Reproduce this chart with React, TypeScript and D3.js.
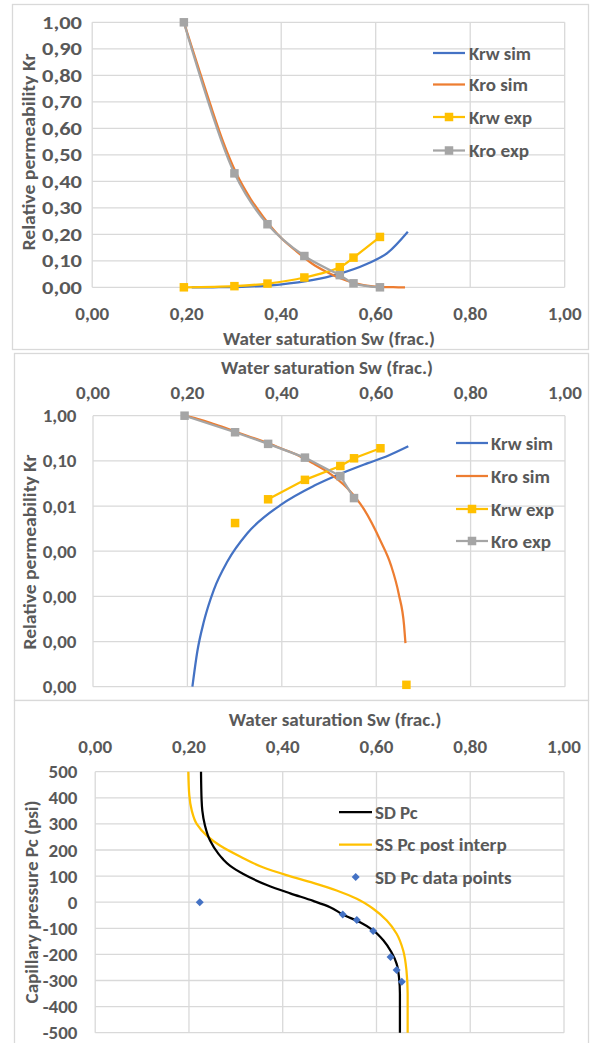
import React from "react";
import * as d3 from "d3";

const FONT = "Carlito, Calibri, Lato, sans-serif";
const TXT = "#595959";
const GRID = "#d9d9d9";
const BLUE = "#4472C4";
const ORANGE = "#ED7D31";
const GRAY = "#A5A5A5";
const YELLOW = "#FFC000";

// ---------- data ----------
const swTicks = [0, 0.2, 0.4, 0.6, 0.8, 1.0];
const krLinTicks = [0, 0.1, 0.2, 0.3, 0.4, 0.5, 0.6, 0.7, 0.8, 0.9, 1.0];
const krLogTicks = [1, 0.1, 0.01, 0.001, 0.0001, 0.00001, 0.000001];
const pcTicks = [500, 400, 300, 200, 100, 0, -100, -200, -300, -400, -500];

const xTitle = "Water saturation Sw (frac.)";
const krTitle = "Relative permeability Kr";
const pcTitle = "Capillary pressure Pc (psi)";
const krLegend = ["Krw sim", "Kro sim", "Krw exp", "Kro exp"];
const pcLegend = ["SD Pc", "SS Pc post interp", "SD Pc data points"];

const krwSim: [number, number][] = [
  [0.2106, 1e-6], [0.221, 6e-6], [0.235, 2.8e-5], [0.256, 1.4e-4], [0.285, 6e-4],
  [0.327, 2.5e-3], [0.397, 0.0105], [0.468, 0.028], [0.517, 0.048], [0.581, 0.088],
  [0.625, 0.13], [0.668, 0.21],
];
const kroSim: [number, number][] = [
  [0.194, 1.0], [0.221, 0.85], [0.25, 0.69], [0.277, 0.55], [0.305, 0.43],
  [0.335, 0.334], [0.362, 0.266], [0.4, 0.186], [0.433, 0.135], [0.465, 0.09],
  [0.496, 0.058], [0.539, 0.0247], [0.574, 0.0085], [0.609, 0.0017],
  [0.631, 5e-4], [0.648, 1.1e-4], [0.659, 2.3e-5], [0.662, 9.2e-6],
];
const krwExp: [number, number][] = [
  [0.194, 0], [0.301, 0.0043], [0.371, 0.014], [0.449, 0.037],
  [0.524, 0.076], [0.553, 0.112], [0.609, 0.19],
];
const kroExp: [number, number][] = [
  [0.194, 1.0], [0.301, 0.43], [0.371, 0.238], [0.449, 0.118],
  [0.524, 0.046], [0.553, 0.015], [0.609, 0],
];
// log-scale view of the experimental Krw series (connected part and loose points)
const krwExpLogLine: [number, number][] = [
  [0.371, 0.0141], [0.449, 0.038], [0.524, 0.077], [0.553, 0.114], [0.609, 0.19],
];
const krwExpLogLoose: [number, number][] = [[0.301, 0.0042], [0.664, 1.1e-6]];

const sdPc: [number, number][] = [
  [0.2257, 500], [0.227, 390], [0.2285, 351], [0.234, 295], [0.245, 236],
  [0.263, 185], [0.273, 164], [0.288, 139], [0.316, 108], [0.366, 66],
  [0.416, 34], [0.465, 5], [0.501, -19], [0.529, -48], [0.565, -77],
  [0.593, -108], [0.615, -147], [0.632, -192], [0.643, -236], [0.648, -287],
  [0.65, -351], [0.65, -500],
];
const ssPc: [number, number][] = [
  [0.1986, 500], [0.2007, 410], [0.206, 351], [0.2165, 300], [0.238, 255],
  [0.266, 217], [0.309, 175], [0.359, 133], [0.408, 104], [0.465, 74],
  [0.515, 45], [0.558, 13], [0.593, -25], [0.622, -70], [0.643, -121],
  [0.657, -185], [0.664, -262], [0.6665, -351], [0.6665, -500],
];
const sdPcPoints: [number, number][] = [
  [0.223, 0], [0.528, -47], [0.558, -68], [0.593, -110], [0.63, -210],
  [0.643, -260], [0.654, -305],
];

const fmt2 = (v: number) => v.toFixed(2).replace(".", ",");

type Sc = (v: number) => number;

const TICK_SIZE = 19;
const TITLE_SIZE = 18.5;
const LEG_SIZE = 18.5;

function Square({ cx, cy, color, s = 8.5 }: { cx: number; cy: number; color: string; s?: number }) {
  return <rect x={cx - s / 2} y={cy - s / 2} width={s} height={s} fill={color} />;
}
function Diamond({ cx, cy, color, r = 4 }: { cx: number; cy: number; color: string; r?: number }) {
  return (
    <path
      d={`M${cx},${cy - r}L${cx + r},${cy}L${cx},${cy + r}L${cx - r},${cy}Z`}
      fill={color}
    />
  );
}

function Grid({ x, y, xs, ys }: { x: Sc; y: Sc; xs: number[]; ys: number[] }) {
  const [y0, y1] = [y(ys[0]), y(ys[ys.length - 1])];
  const [x0, x1] = [x(xs[0]), x(xs[xs.length - 1])];
  return (
    <g stroke={GRID} strokeWidth={1.3}>
      {xs.map((t, i) => (
        <line key={"v" + i} x1={x(t)} x2={x(t)} y1={y0} y2={y1} />
      ))}
      {ys.map((t, i) => (
        <line key={"h" + i} x1={x0} x2={x1} y1={y(t)} y2={y(t)} />
      ))}
    </g>
  );
}

function XLabels({ x, ticks, yPos }: { x: Sc; ticks: number[]; yPos: number }) {
  return (
    <g fill={TXT} fontSize={TICK_SIZE} textAnchor="middle">
      {ticks.map((t, i) => (
        <text key={i} x={x(t)} y={yPos} dominantBaseline="central">
          {fmt2(t)}
        </text>
      ))}
    </g>
  );
}
function YLabels({
  y, ticks, xPos, f, width,
}: { y: Sc; ticks: number[]; xPos: number; f: (v: number) => string; width?: number }) {
  return (
    <g fill={TXT} fontSize={TICK_SIZE} textAnchor="end">
      {ticks.map((t, i) => (
        <text
          key={i}
          x={xPos}
          y={y(t)}
          dominantBaseline="central"
          textLength={width}
          lengthAdjust={width ? "spacingAndGlyphs" : undefined}
        >
          {f(t)}
        </text>
      ))}
    </g>
  );
}
function Title({
  x, y, text, len, rotate = false,
}: { x: number; y: number; text: string; len: number; rotate?: boolean }) {
  return (
    <text
      x={x}
      y={y}
      fill={TXT}
      fontSize={TITLE_SIZE}
      textAnchor="middle"
      dominantBaseline="central"
      textLength={len}
      lengthAdjust="spacingAndGlyphs"
      transform={rotate ? `rotate(-90 ${x} ${y})` : undefined}
    >
      {text}
    </text>
  );
}
function LegText({ x, y, text, len }: { x: number; y: number; text: string; len: number }) {
  return (
    <text
      x={x}
      y={y}
      fill={TXT}
      fontSize={LEG_SIZE}
      dominantBaseline="central"
      textLength={len}
      lengthAdjust="spacingAndGlyphs"
    >
      {text}
    </text>
  );
}

function KrLegend({ x0, x1, tx, rows }: { x0: number; x1: number; tx: number; rows: number[] }) {
  const colors = [BLUE, ORANGE, YELLOW, GRAY];
  const lens = [62, 59, 63, 60];
  return (
    <g>
      {krLegend.map((lab, i) => (
        <g key={i}>
          <line x1={x0} x2={x1} y1={rows[i]} y2={rows[i]} stroke={colors[i]} strokeWidth={2.25} />
          {i >= 2 && <Square cx={(x0 + x1) / 2} cy={rows[i]} color={colors[i]} />}
          <LegText x={tx} y={rows[i]} text={lab} len={lens[i]} />
        </g>
      ))}
    </g>
  );
}

function Panel1() {
  const x = d3.scaleLinear().domain([0, 1]).range([92.2, 564.7]);
  const y = d3.scaleLinear().domain([0, 1]).range([287.3, 22.3]);
  const sim = d3.line<[number, number]>().x((d) => x(d[0])).y((d) => y(d[1])).curve(d3.curveMonotoneX);
  const smooth = d3
    .line<[number, number]>()
    .x((d) => x(d[0]))
    .y((d) => y(d[1]))
    .curve(d3.curveCatmullRom.alpha(0.5));
  return (
    <g>
      <rect x={12.5} y={4.5} width={576} height={345} fill="#fff" stroke={GRID} strokeWidth={1.3} />
      <Grid x={x} y={y} xs={swTicks} ys={krLinTicks} />
      <path d={sim(krwSim) || ""} fill="none" stroke={BLUE} strokeWidth={2.25} />
      <path d={sim(kroSim) || ""} fill="none" stroke={ORANGE} strokeWidth={2.25} />
      <path d={smooth(krwExp) || ""} fill="none" stroke={YELLOW} strokeWidth={2.25} />
      {krwExp.map((d, i) => (
        <Square key={"y" + i} cx={x(d[0])} cy={y(d[1])} color={YELLOW} />
      ))}
      <path d={smooth(kroExp) || ""} fill="none" stroke={GRAY} strokeWidth={2.25} />
      {kroExp.map((d, i) => (
        <Square key={"g" + i} cx={x(d[0])} cy={y(d[1])} color={GRAY} />
      ))}
      <YLabels y={y} ticks={krLinTicks} xPos={82} f={fmt2} width={40} />
      <XLabels x={x} ticks={swTicks} yPos={313.5} />
      <Title x={329} y={338} text={xTitle} len={212} />
      <Title x={28.5} y={152} text={krTitle} len={197} rotate />
      <KrLegend x0={433} x1={465} tx={469} rows={[53, 84.5, 117, 150.5]} />
    </g>
  );
}

function Panel2() {
  const x = d3.scaleLinear().domain([0, 1]).range([93, 565]);
  const y = d3.scaleLog().domain([1e-6, 1]).range([686.7, 415.7]);
  const sim = d3.line<[number, number]>().x((d) => x(d[0])).y((d) => y(d[1])).curve(d3.curveMonotoneX);
  const straight = d3.line<[number, number]>().x((d) => x(d[0])).y((d) => y(d[1]));
  const kroPos = kroExp.filter((d) => d[1] > 0);
  return (
    <g>
      <rect x={14.5} y={353.5} width={574} height={347} fill="#fff" stroke={GRID} strokeWidth={1.3} />
      <Grid x={x} y={y} xs={swTicks} ys={krLogTicks} />
      <path d={sim(krwSim) || ""} fill="none" stroke={BLUE} strokeWidth={2.25} />
      <path d={sim(kroSim) || ""} fill="none" stroke={ORANGE} strokeWidth={2.25} />
      <path d={straight(krwExpLogLine) || ""} fill="none" stroke={YELLOW} strokeWidth={2.25} />
      {[...krwExpLogLine, ...krwExpLogLoose].map((d, i) => (
        <Square key={"y" + i} cx={x(d[0])} cy={y(d[1])} color={YELLOW} />
      ))}
      <path d={straight(kroPos) || ""} fill="none" stroke={GRAY} strokeWidth={2.25} />
      {kroPos.map((d, i) => (
        <Square key={"g" + i} cx={x(d[0])} cy={y(d[1])} color={GRAY} />
      ))}
      <YLabels y={y} ticks={krLogTicks} xPos={76.5} f={fmt2} />
      <XLabels x={x} ticks={swTicks} yPos={392} />
      <Title x={327} y={367.5} text={xTitle} len={212} />
      <Title x={29.5} y={552} text={krTitle} len={195} rotate />
      <KrLegend x0={456} x1={488} tx={491} rows={[443, 476, 509, 541]} />
    </g>
  );
}

function Panel3() {
  const x = d3.scaleLinear().domain([0, 1]).range([95.2, 564]);
  const y = d3.scaleLinear().domain([-500, 500]).range([1032.7, 771.7]);
  const curve = d3.line<[number, number]>().x((d) => x(d[0])).y((d) => y(d[1])).curve(d3.curveMonotoneY);
  const rows = [812, 844.5, 877];
  const lens = [42.7, 131.7, 136.7];
  return (
    <g>
      <rect x={14.5} y={700.5} width={574} height={400} fill="#fff" stroke={GRID} strokeWidth={1.3} />
      <Grid x={x} y={y} xs={swTicks} ys={pcTicks} />
      <path d={curve(ssPc) || ""} fill="none" stroke={YELLOW} strokeWidth={2.25} />
      <path d={curve(sdPc) || ""} fill="none" stroke="#000" strokeWidth={2.25} />
      {sdPcPoints.map((d, i) => (
        <Diamond key={i} cx={x(d[0])} cy={y(d[1])} color={BLUE} />
      ))}
      <YLabels y={y} ticks={pcTicks} xPos={77.5} f={(v) => String(v)} />
      <XLabels x={x} ticks={swTicks} yPos={746.7} />
      <Title x={335} y={719} text={xTitle} len={212.7} />
      <Title x={31.5} y={902} text={pcTitle} len={203} rotate />
      <line x1={339} x2={372} y1={rows[0]} y2={rows[0]} stroke="#000" strokeWidth={2.25} />
      <line x1={339} x2={372} y1={rows[1]} y2={rows[1]} stroke={YELLOW} strokeWidth={2.25} />
      <Diamond cx={355.7} cy={rows[2]} color={BLUE} />
      {pcLegend.map((lab, i) => (
        <LegText key={i} x={375} y={rows[i]} text={lab} len={lens[i]} />
      ))}
    </g>
  );
}

export default function App() {
  return (
    <svg
      width={590}
      height={1043}
      style={{ position: "absolute", left: 0, top: 0, background: "#fff" }}
      fontFamily={FONT}
      fontWeight="bold"
    >
      <Panel1 />
      <Panel2 />
      <Panel3 />
    </svg>
  );
}
